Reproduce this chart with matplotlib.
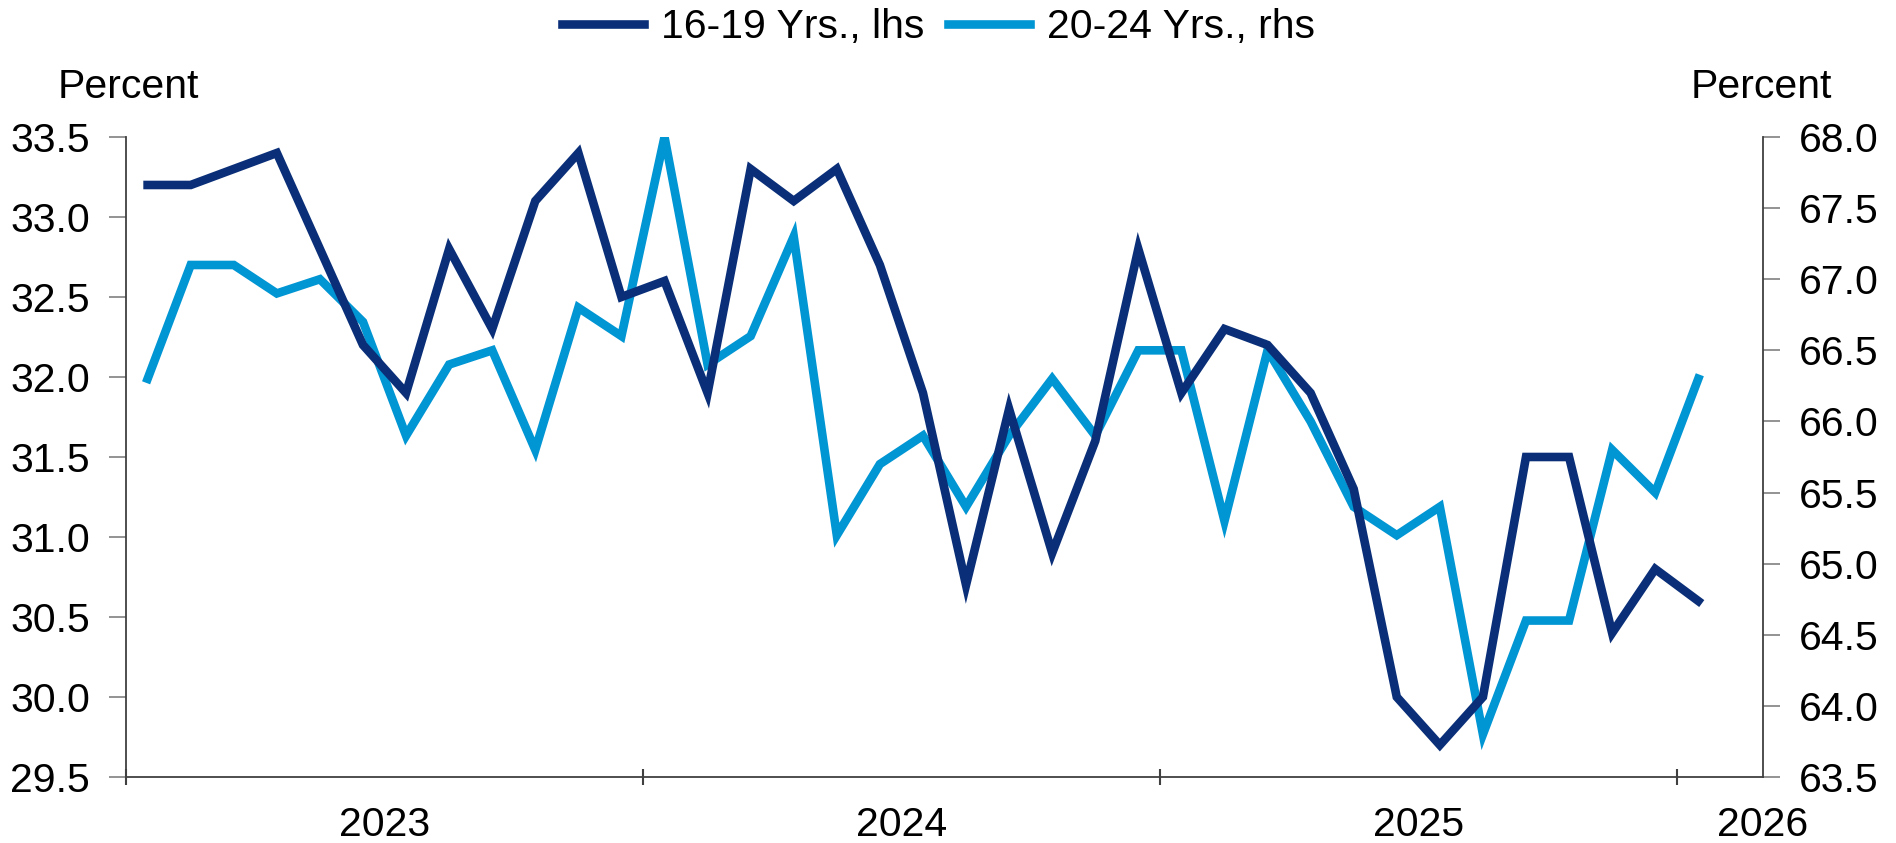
import matplotlib
matplotlib.use('Agg')
import numpy as np
import matplotlib.pyplot as plt

plt.rcParams['font.family'] = ['Liberation Sans', 'DejaVu Sans']

# monthly, Jan 2023 .. Jan 2026
teens = [33.2, 33.2, 33.3, 33.4, 32.8, 32.2, 31.9, 32.8, 32.3, 33.1, 33.4, 32.5,
         32.6, 31.9, 33.3, 33.1, 33.3, 32.7, 31.9, 30.7, 31.8, 30.9, 31.6, 32.8,
         31.9, 32.3, 32.2, 31.9, 31.3, 30.0, 29.7, 30.0, 31.5, 31.5, 30.4, 30.8,
         30.6]
twenties = [66.3, 67.1, 67.1, 66.9, 67.0, 66.7, 65.9, 66.4, 66.5, 65.8, 66.8, 66.6,
            68.0, 66.4, 66.6, 67.3, 65.2, 65.7, 65.9, 65.4, 65.9, 66.3, 65.9, 66.5,
            66.5, 65.3, 66.5, 66.0, 65.4, 65.2, 65.4, 63.8, 64.6, 64.6, 65.8, 65.5,
            66.3]
years = ['2023', '2024', '2025', '2026']
series_names = ['16-19 Yrs., lhs', '20-24 Yrs., rhs']

dark = '#0a2f78'
light = '#0095d3'
spine_col = '#404040'
fs = 29.5

x = np.arange(len(teens)) + 0.5

fig = plt.figure(figsize=(18.96, 8.43), dpi=100)
ax = fig.add_axes([0.0665, 0.0783, 0.9298 - 0.0665, 0.8375 - 0.0783])
ax2 = ax.twinx()

l1, = ax.plot(x, teens, color=dark, lw=6.2, solid_joinstyle='miter', zorder=3)
l2, = ax2.plot(x, twenties, color=light, lw=6.2, solid_joinstyle='miter', zorder=2)
ax.set_zorder(ax2.get_zorder() + 1)
ax.patch.set_visible(False)

ax.set_xlim(0, 38)
ax.set_ylim(29.5, 33.5)
ax2.set_ylim(63.5, 68.0)
ax.set_yticks(np.arange(29.5, 33.51, 0.5))
ax2.set_yticks(np.arange(63.5, 68.01, 0.5))
ax.set_yticklabels([f'{v:.1f}' for v in np.arange(29.5, 33.51, 0.5)])
ax2.set_yticklabels([f'{v:.1f}' for v in np.arange(63.5, 68.01, 0.5)])

ax.set_xticks([0, 12, 24, 36])
ax.set_xticklabels([])
ax.set_xticks([6, 18, 30, 38], minor=True)
ax.set_xticklabels(years, minor=True)
ax.tick_params(axis='x', which='major', direction='inout', length=11, width=1.5, color=spine_col)
ax.tick_params(axis='x', which='minor', length=0, pad=21, labelsize=fs)
ax.tick_params(axis='y', direction='out', length=12, width=1.2, color='#808080', pad=14, labelsize=fs)
ax2.tick_params(axis='y', direction='out', length=12, width=1.2, color='#808080', pad=14, labelsize=fs)

for a in (ax, ax2):
    a.spines['top'].set_visible(False)
    for s in ('left', 'right', 'bottom'):
        a.spines[s].set_color(spine_col)
        a.spines[s].set_linewidth(1.3)
ax.spines['right'].set_visible(False)
ax2.spines['left'].set_visible(False)
ax2.spines['bottom'].set_visible(False)

fig.text(0.0306, 0.897, 'Percent', fontsize=fs, ha='left', va='center')
fig.text(0.9662, 0.897, 'Percent', fontsize=fs, ha='right', va='center')

fig.legend([l1, l2], series_names, loc='center', bbox_to_anchor=(0.495, 0.968),
           ncol=2, frameon=False, fontsize=fs, handlelength=2.0,
           handletextpad=0.4, columnspacing=0.6, borderaxespad=0)

fig.savefig('out.png', dpi=100)
